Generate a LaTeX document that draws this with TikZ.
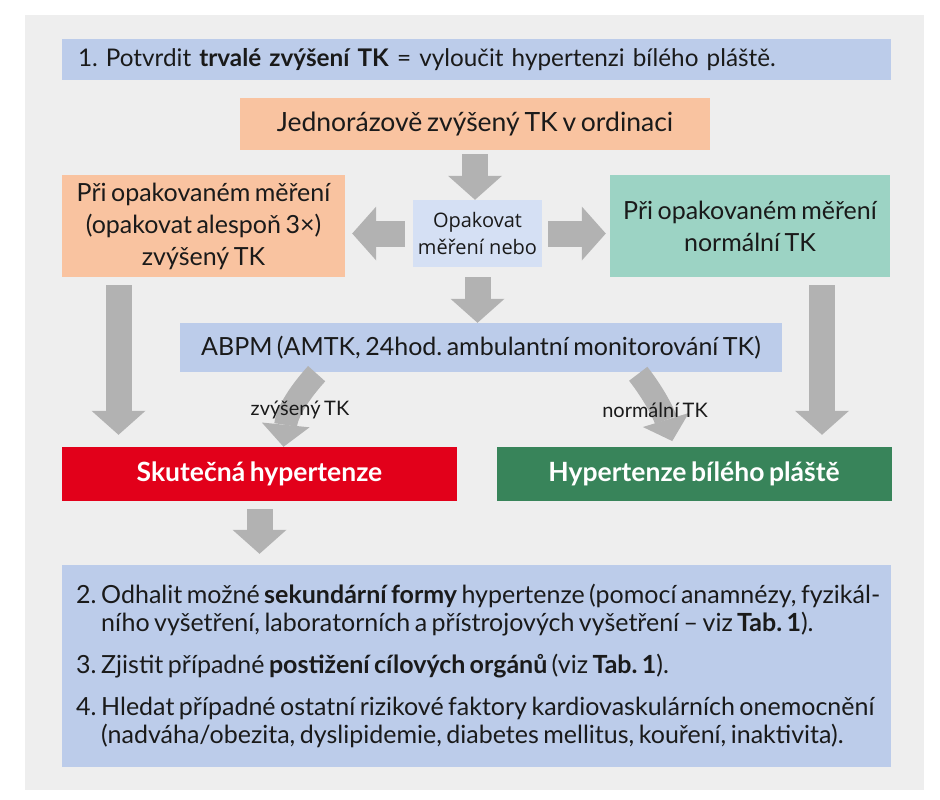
\documentclass[tikz,border=0pt]{standalone}
\usepackage{fontspec}
\setmainfont[WordSpace=0.7]{Lato}
\newfontfamily\repeatfont{Open Sans}
\usetikzlibrary{arrows.meta}
\frenchspacing

\definecolor{bggray}{HTML}{EEEEEE}
\definecolor{stepblue}{HTML}{BCCCEA}
\definecolor{paleblue}{HTML}{D5E0F4}
\definecolor{peach}{HTML}{F9C3A0}
\definecolor{mint}{HTML}{9CD3C4}
\definecolor{alarmred}{HTML}{E2001A}
\definecolor{okgreen}{HTML}{38845A}
\definecolor{arrowgray}{HTML}{B2B2B2}
\definecolor{ink}{HTML}{1A1A1A}

\begin{document}
\begin{tikzpicture}[x=1pt, y=-1pt,
    every node/.style={text=ink, inner sep=0pt, align=center},
    txt/.style={font=\fontsize{25}{32}\selectfont},
    box/.style={txt, fill=#1},
    verdict/.style={fill=#1, text=white, font=\fontsize{26.5}{30}\selectfont\bfseries,
        minimum width=395, minimum height=54},
    blockarrow/.style={draw=arrowgray, line width=26pt,
        -{Triangle[width=54pt, length=24pt, line width=0pt]}},
    bendarrow/.style={draw=arrowgray, line width=23pt,
        -{Triangle[width=48pt, length=22pt, line width=0pt]}}]
    \useasboundingbox (0,0) rectangle (940,800);
    \fill[bggray] (25,15) rectangle (924,790);

    % krok 1
    \node[box=stepblue, minimum width=829, minimum height=41, text width=797,
        inner xsep=16pt, align=left, font=\fontsize{24.3}{30}\selectfont] (goal) at (476.5,59.5)
        {1. Potvrdit \textbf{trvalé zvýšení TK} = vyloučit hypertenzi bílého pláště.};
    \node[box=peach, minimum width=470, minimum height=52, font=\fontsize{26.5}{30}\selectfont]
        (once) at (475,124) {Jednorázově zvýšený TK v ordinaci};
    \node[fill=paleblue, minimum width=129, minimum height=67,
        font=\repeatfont\fontsize{20}{27}\selectfont] (repeat) at (477.5,233.5)
        {Opakovat\\měření nebo};
    \node[box=peach, minimum width=283, minimum height=102] (high) at (203.5,226)
        {Při opakovaném měření\\(opakovat alespoň 3×)\\zvýšený TK};
    \node[box=mint, minimum width=280, minimum height=102] (normal) at (750,226)
        {Při opakovaném měření\\normální TK};
    \node[box=stepblue, minimum width=602, minimum height=49] (abpm) at (481,347.5)
        {ABPM (AMTK, 24hod. ambulantní monitorování TK)};

    % výsledek
    \node[verdict=alarmred] (truehyp) at (259.5,474) {Skutečná hypertenze};
    \node[verdict=okgreen] (whitecoat) at (694,474) {Hypertenze bílého pláště};

    % kroky 2--4
    \node[fill=stepblue, minimum width=829, minimum height=202] (tasks) at (476.5,666) {};
    \node[anchor=north west, align=left, font=\fontsize{25}{28}\selectfont] (tasklist) at (76,584)
        {\begin{tabular}{@{}p{25pt}@{}l@{}}
        2. & Odhalit možné \textbf{sekundární formy} hypertenze (pomocí anamnézy, fyzikál-\\
           & ního vyšetření, laboratorních a přístrojových vyšetření -- viz \textbf{Tab.~1}).\\[14pt]
        3. & Zjistit případné \textbf{postižení cílových orgánů} (viz \textbf{Tab.~1}).\\[14pt]
        4. & Hledat případné ostatní rizikové faktory kardiovaskulárních onemocnění\\
           & (nadváha/obezita, dyslipidemie, diabetes mellitus, kouření, inaktivita).
        \end{tabular}};

    % šipky
    \draw[blockarrow, shorten <=4pt] (once.south) -- (once.south |- repeat.north);
    \draw[blockarrow, shorten <=8pt, shorten >=7pt] (repeat.west) -- (repeat.west -| high.east);
    \draw[blockarrow, shorten <=6pt, shorten >=4pt] (repeat.east) -- (repeat.east -| normal.west);
    \draw[blockarrow, shorten <=10pt] (repeat.south) -- (repeat.south |- abpm.north);
    \draw[blockarrow, shorten <=8pt, shorten >=12pt]
        ([xshift=-85pt]high.south) -- ([xshift=-141pt]truehyp.north);
    \draw[blockarrow, shorten <=8pt, shorten >=12pt]
        ([xshift=72pt]normal.south) -- ([xshift=128pt]whitecoat.north);
    \draw[bendarrow, shorten <=2pt] ([xshift=-163pt]abpm.south)
        .. controls (300,392) and (287,412) .. ([xshift=24pt]truehyp.north);
    \draw[bendarrow, shorten <=2pt, shorten >=6pt] ([xshift=156pt]abpm.south)
        .. controls (654,394) and (664,414) .. ([xshift=-20pt]whitecoat.north);
    \draw[blockarrow, shorten <=8pt, shorten >=11pt] (truehyp.south) -- (truehyp.south |- tasks.north);

    % popisky nad šipkami
    \node[font=\fontsize{20}{24}\selectfont] (lblhigh) at (300,410) {zvýšený TK};
    \node[font=\fontsize{20}{24}\selectfont] (lblnormal) at (655,410) {normální TK};
\end{tikzpicture}
\end{document}
